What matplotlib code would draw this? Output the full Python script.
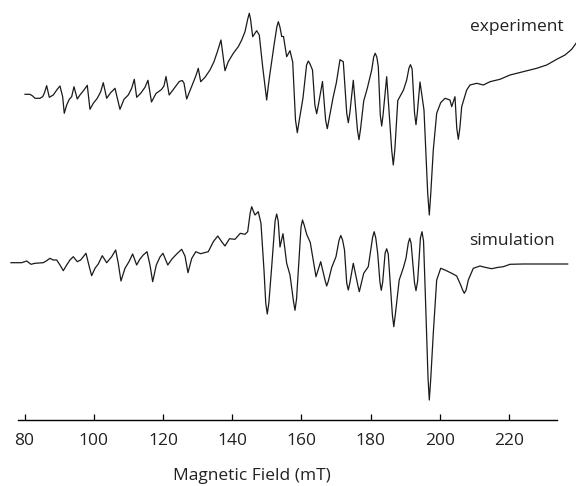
#!/usr/bin/env python3
# EPR spectrum: experiment vs simulation, traced values (mT, a.u.)

import numpy as np
import matplotlib
matplotlib.use("Agg")
import matplotlib.pyplot as plt

plt.rcParams["font.family"] = ["Open Sans", "DejaVu Sans"]

# experimental trace
exp_field = [80.12, 81.56, 82.34, 83.01, 84.45, 85.23, 85.69, 86.39, 87.14, 88.29,
             89.45, 90.23, 91.01, 91.47, 92.17, 92.92, 93.61, 94.28, 95.23, 96.01,
             97.17, 98.12, 98.90, 99.86, 101.01, 102.00, 102.75, 103.73, 104.88, 106.13,
             107.57, 108.73, 109.97, 110.95, 111.71, 112.40, 113.56, 114.80, 115.66, 116.68,
             117.98, 119.57, 120.29, 120.87, 121.79, 123.18, 124.71, 125.58, 126.07, 126.85,
             128.24, 129.54, 130.20, 130.90, 132.14, 133.58, 134.74, 135.81, 136.76, 137.92,
             138.87, 140.32, 141.76, 142.75, 143.70, 144.94, 145.93, 147.08, 147.83, 148.81,
             149.97, 150.93, 152.17, 153.33, 154.31, 154.83, 155.75, 156.71, 157.49, 158.82,
             160.46, 162.00, 163.21, 164.42, 166.10, 167.49, 169.13, 170.09, 171.16, 172.11,
             173.56, 175.00, 176.65, 178.01, 179.05, 180.32, 181.33, 182.23, 183.21, 184.65,
             186.56, 187.86, 189.51, 190.43, 191.53, 193.12, 194.28, 195.43, 196.97, 198.12,
             199.10, 200.26, 201.50, 202.95, 203.44, 204.39, 205.35, 206.33, 207.77, 208.73,
             210.67, 212.57, 214.51, 217.40, 220.29, 224.13, 228.00, 230.89, 233.79, 236.19,
             238.12, 239.37]
exp_signal = [0.7, 0.7, -1, -3.3, -3.3, -1.7, 1.7, 9.3, -2.3, 0,
              5.7, 9, -1.7, -18.3, -10, -4.3, -1.7, 8.3, -4, 0,
              5, 9.7, -14.3, -8.3, -3.3, 3.3, 12.3, -3.3, 2.3, 6.7,
              -14.3, -4.3, 0, 6.7, 15.7, -2.3, 1.7, 7.7, 14.7, -7,
              1.5, 5.5, 9, 18.5, 0, 6.5, 13.5, 14.5, 12, -4,
              8, 19.5, 26.7, 13.3, 17.7, 25, 33.3, 44.3, 55, 24.3,
              33.3, 41.7, 48.3, 55, 63.3, 81.7, 58.3, 64.3, 60, 28.3,
              -5, 21.7, 51.7, 73.3, 58.5, 58.5, 38.3, 44.3, 33, -37.7,
              -3, 34, 25, -18.7, 13.5, -33.7, -3, 12, 35.3, 33.3,
              -27.7, 14.7, -44.7, -6, 6.7, 25, 41.7, 28.3, -31, 18.3,
              -70, -5.5, 5, 15, 30.3, -29.7, 13, -15, -120, -55,
              -18.3, -7.7, -3.3, -5, -11.7, -1.7, -44.3, -11.7, 5, 10,
              11.7, 10, 13.3, 15.7, 20, 23.3, 26.7, 30, 35.7, 40,
              45.7, 51.7]
# extra readings near the rounded extrema
exp_field_extra = [144.5, 145.3, 149.5, 150.4, 152.9, 153.8, 158.3, 159.4, 161.5, 162.5,
                   163.9, 164.9, 167.0, 168.0, 173.1, 174.0, 176.2, 177.1, 180.9, 181.8,
                   182.8, 183.6, 186.1, 187.0, 191.1, 192.0, 192.7, 193.5, 196.5, 197.4,
                   204.9, 205.8]
exp_signal_extra = [76, 76, 8, 8, 68, 68, -25, -25, 30, 31,
                    -10, -10, -25, -24, -18, -18, -35, -34, 38, 38,
                    -20, -20, -55, -55, 27, 26, -18, -18, -98, -98,
                    -33, -33]

# simulated trace
sim_field = [76.07, 79.16, 80.61, 81.85, 83.01, 85.40, 86.39, 87.34, 88.29, 89.28,
             90.23, 91.19, 92.17, 93.12, 94.08, 95.23, 96.21, 97.75, 98.70, 99.39,
             100.35, 101.30, 102.46, 103.73, 105.17, 106.33, 107.08, 107.86, 109.02, 110.17,
             111.24, 112.40, 113.35, 114.31, 115.38, 116.24, 117.02, 118.07, 119.13, 120.00,
             121.39, 122.60, 123.96, 125.40, 126.36, 127.23, 128.30, 129.48, 130.84, 133.09,
             134.54, 135.84, 136.97, 137.92, 139.22, 140.81, 142.34, 143.70, 144.48, 145.64,
             146.59, 147.54, 148.32, 149.19, 150.14, 151.42, 152.86, 153.82, 154.68, 155.75,
             156.71, 158.15, 159.37, 160.32, 161.53, 162.57, 164.22, 165.58, 167.31, 168.76,
             170.00, 171.39, 172.46, 173.56, 175.00, 176.74, 178.01, 179.33, 181.04, 182.05,
             183.09, 184.65, 186.71, 188.27, 189.45, 190.23, 191.30, 193.12, 194.86, 195.81,
             196.97, 198.12, 199.10, 200.26, 201.50, 203.44, 204.88, 206.04, 207.08, 208.24,
             209.68, 211.62, 213.06, 215.00, 216.91, 218.36, 220.29, 224.13, 229.91, 236.96]
sim_signal = [0.3, 0.3, 2, -1.3, -0.3, 0.3, 2.3, 4.7, 3, 3,
              -2, -7.7, -2, 3, 6.3, 1.3, 3, 9.7, -3.7, -12.7,
              -5.3, -1, 7.3, 0.3, 6.3, 13, -0.3, -18, -5.3, 1.3,
              9, -2, 4, 8, 11.3, -2, -18.7, -2, 6, 9.7,
              -2, 4, 9, 13.7, 7, -9.7, 4.5, 11.3, 9.3, 11.3,
              21.3, 27, 21.3, 17, 24.3, 23.7, 29.7, 28.7, 31.3, 56.3,
              48, 51.3, 39.7, -7, -51, -3.7, 49, 16, 29.3, -0.3,
              -12, -47.3, 7, 43, 28.7, 20.5, -13.7, 1.3, -23, -4.5,
              6.3, 27.5, 13, -27, -0.3, -28.7, -10.3, -3.7, 31.3, 9.7,
              -27.3, 14.2, -63.7, -17, -5, 4.7, 24.7, -27.7, 31.3, -30.3,
              -137, -70.3, -17, -5.3, -7, -10.3, -13, -22, -30.3, -17,
              -5.3, -3, -4.3, -5.7, -4.3, -3.7, -1.3, -1, -1, -1]
sim_field_extra = [145.2, 146.1, 149.7, 150.6, 152.4, 153.3, 157.7, 158.6, 159.9, 160.8,
                   166.9, 167.8, 170.9, 171.9, 173.1, 174.0, 176.3, 177.2, 180.6, 181.5,
                   182.7, 183.5, 184.2, 185.1, 186.3, 187.2, 190.9, 191.7, 192.7, 193.6,
                   194.4, 195.3, 196.6, 197.4, 206.6, 207.6]
sim_signal_extra = [50, 52, -40, -40, 42, 42, -38, -36, 36, 38,
                    -18, -18, 23, 23, -20, -20, -22, -22, 26, 25,
                    -19, -19, 10, 9, -52, -50, 20, 20, -20, -18,
                    25, 22, -115, -115, -27, -27]

xticks = [80, 100, 120, 140, 160, 180, 200, 220]
exp_offset = 325
sim_offset = 157


def merged(f, s, f2, s2):
    f = np.concatenate([f, f2])
    s = np.concatenate([s, s2])
    order = np.argsort(f)
    return f[order], s[order]


ef, es = merged(exp_field, exp_signal, exp_field_extra, exp_signal_extra)
sf, ss = merged(sim_field, sim_signal, sim_field_extra, sim_signal_extra)

fig = plt.figure(figsize=(5.76, 4.86), dpi=100)
ax = fig.add_axes([0.0319, 0.1358, 0.9351, 0.8642])

ax.plot(ef, es + exp_offset, color="#1a1a1a", lw=0.9, clip_on=False,
        solid_joinstyle="round")
ax.plot(sf, ss + sim_offset, color="#1a1a1a", lw=0.9, clip_on=False,
        solid_joinstyle="round")

ax.text(235.9, 393, "experiment", ha="right", va="center", fontsize=12.5, color="#222222")
ax.text(233.3, 179, "simulation", ha="right", va="center", fontsize=12.5, color="#222222")

ax.set_xlim(78.21, 233.87)
ax.set_ylim(0, 420)
ax.set_xticks(xticks)
ax.set_yticks([])
for s in ["top", "left", "right"]:
    ax.spines[s].set_visible(False)
ax.spines["bottom"].set_linewidth(1.0)
ax.tick_params(axis="x", direction="in", length=4, width=0.9, pad=9,
               labelsize=12.5, labelcolor="#222222")

fig.text(252 / 576, 1 - 476 / 486, "Magnetic Field (mT)", ha="center", va="center",
         fontsize=12.5, color="#222222")

fig.savefig("out.png", dpi=100)
